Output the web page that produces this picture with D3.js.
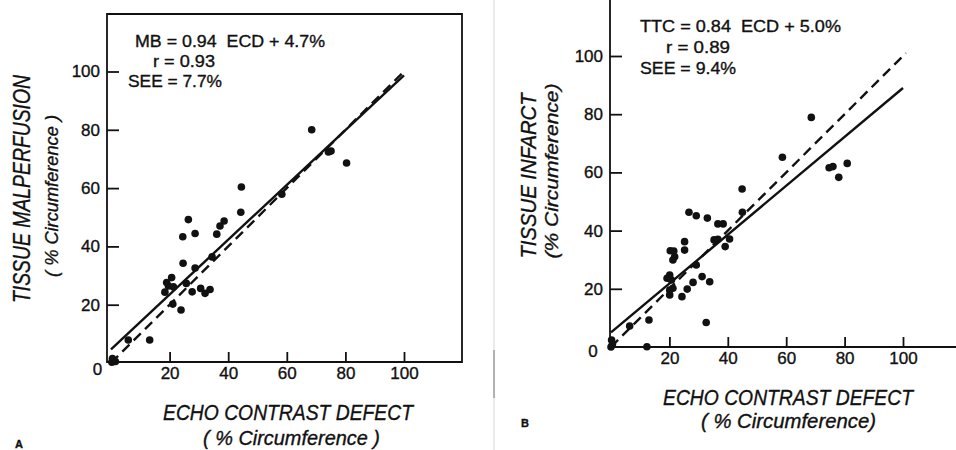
<!DOCTYPE html>
<html>
<head>
<meta charset="utf-8">
<script src="https://cdn.jsdelivr.net/npm/d3@7"></script>
<style>
  html, body { margin: 0; padding: 0; background: #fff; }
  svg { display: block; }
  text { fill: #111; stroke: #111; stroke-width: 0.35; font-family: "Liberation Sans", Arial, sans-serif; }
</style>
</head>
<body>
<svg id="chart" width="956" height="450"></svg>
<script>
// ── Data ─────────────────────────────────────────────
const tickValues = [20, 40, 60, 80, 100]

// Panel A: echo contrast defect vs tissue malperfusion (MB)
const ecdA = [68.5, 74.2, 75.1, 80.4, 58.3, 44.5, 44.3, 38.6, 37.2, 36.1, 34.5,
  26.4, 24.5, 28.7, 24.6, 28.7, 25.7, 20.7, 19.0, 19.6, 21.3, 18.4, 27.7, 30.6,
  32.1, 33.8, 21.1, 23.9, 13.2, 5.9, 0.5, 1.5, 0.3]
const mbA = [80.0, 72.4, 72.7, 68.6, 57.9, 60.4, 51.7, 48.7, 47.0, 44.2, 36.4,
  49.2, 43.3, 44.4, 34.2, 32.6, 27.3, 29.3, 27.6, 26.4, 26.1, 24.3, 24.4, 25.6,
  23.9, 25.2, 20.2, 18.2, 7.9, 7.9, 1.5, 0.5, 0.3]

// Panel B: echo contrast defect vs tissue infarct (TTC)
const ecdB = [68.6, 58.7, 74.7, 76.0, 80.9, 78.0, 44.9, 45.0, 26.7, 29.2, 33.0,
  36.6, 38.4, 35.3, 36.6, 40.6, 39.1, 25.2, 25.2, 20.3, 21.5, 21.8, 21.2, 29.2,
  20.1, 19.2, 20.7, 31.2, 28.1, 33.8, 21.2, 20.1, 26.1, 20.1, 24.3, 13.0, 6.4,
  32.6, 12.3, 0.0, 0.2, 0.5]
const ttcB = [78.9, 65.2, 61.6, 62.0, 63.1, 58.3, 54.3, 46.3, 46.3, 45.1, 44.3,
  42.3, 42.3, 36.8, 37.0, 37.1, 34.5, 36.2, 33.3, 33.1, 33.0, 31.0, 29.9, 28.2,
  24.7, 23.6, 23.0, 24.2, 22.2, 22.4, 20.2, 19.6, 19.9, 17.9, 17.3, 9.3, 7.2,
  8.4, 0.1, 0.0, 2.4, 1.0]

// Regression fits (slope, intercept) and identity line range
const fitA = [0.94, 4.7]
const fitB = [0.84, 5.0]
const identityA = [0, 100]
const identityB = [0, 101]
const fitRangeA = [0, 100]
const fitRangeB = [0, 100]

const statsA = ["MB = 0.94  ECD + 4.7%", "r = 0.93", "SEE = 7.7%"]
const statsB = ["TTC = 0.84  ECD + 5.0%", "r = 0.89", "SEE = 9.4%"]

const svg = d3.select("#chart")
const ink = "#111"

function drawPanel(p) {
  const g = svg.append("g")
  const x = d3.scaleLinear().domain([0, 100]).range(p.xRange)
  const y = d3.scaleLinear().domain([0, 100]).range(p.yRange)

  // frame
  const f = p.frame
  g.append("path")
    .attr("d", p.closed
      ? `M${f.l},${f.b}H${f.r}V${f.t}H${f.l}Z`
      : `M${f.l},${f.t}V${f.b}H${f.r}`)
    .attr("fill", "none").attr("stroke", ink).attr("stroke-width", 1.8)

  // axes (ticks point inward)
  const xa = g.append("g").attr("transform", `translate(0,${f.b})`)
    .call(d3.axisBottom(x).tickValues(tickValues).tickSize(-10).tickSizeOuter(0).tickPadding(5))
  const ya = g.append("g").attr("transform", `translate(${f.l},0)`)
    .call(d3.axisLeft(y).tickValues(tickValues).tickSize(-12).tickSizeOuter(0).tickPadding(p.yPad))
  for (const a of [xa, ya]) {
    a.select(".domain").remove()
    a.selectAll("line").attr("stroke", ink).attr("stroke-width", 1.8)
    a.selectAll("text").attr("font-size", 17).attr("font-family", "Liberation Sans, Arial, sans-serif").attr("fill", ink)
  }
  g.append("text").attr("x", p.zero[0]).attr("y", p.zero[1])
    .attr("text-anchor", "middle").attr("font-size", 17).text("0")

  // identity (dashed) and regression (solid)
  g.append("line")
    .attr("x1", x(p.identity[0])).attr("y1", y(p.identity[0]))
    .attr("x2", x(p.identity[1])).attr("y2", y(p.identity[1]))
    .attr("stroke", ink).attr("stroke-width", 2.4).attr("stroke-dasharray", "10,6")
  const fy = v => p.fit[0] * v + p.fit[1]
  g.append("line")
    .attr("x1", x(p.fitRange[0])).attr("y1", y(fy(p.fitRange[0])))
    .attr("x2", x(p.fitRange[1])).attr("y2", y(fy(p.fitRange[1])))
    .attr("stroke", ink).attr("stroke-width", 2.4)

  // points
  g.append("g").selectAll("circle")
    .data(p.xs.map((v, i) => [v, p.ys[i]]))
    .join("circle")
    .attr("cx", d => x(d[0])).attr("cy", d => y(d[1]))
    .attr("r", 3.8).attr("fill", ink)

  // stats block
  p.stats.forEach((s, i) => {
    g.append("text").attr("x", p.statPos[i][0]).attr("y", p.statPos[i][1])
      .attr("font-size", 17).attr("textLength", p.statLen[i]).attr("lengthAdjust", "spacingAndGlyphs")
      .style("white-space", "pre").text(s)
  })

  // axis titles
  p.yTitle.forEach(t => {
    g.append("text")
      .attr("transform", `translate(${t.cx},${t.cy}) rotate(-90)`)
      .attr("text-anchor", "middle").attr("dy", "0.36em")
      .attr("font-size", t.fs).attr("font-style", "italic")
      .attr("textLength", t.len).attr("lengthAdjust", "spacingAndGlyphs")
      .text(t.text)
  })
  p.xTitle.forEach(t => {
    g.append("text").attr("x", t.cx).attr("y", t.base)
      .attr("text-anchor", "middle")
      .attr("font-size", t.fs).attr("font-style", "italic")
      .attr("textLength", t.len).attr("lengthAdjust", "spacingAndGlyphs")
      .text(t.text)
  })
  g.append("text").attr("x", p.letter[0]).attr("y", p.letter[1])
    .attr("font-size", 11).attr("font-weight", "bold").text(p.letter[2])
}

// faint page gutter line from the scan
svg.append("line").attr("x1", 494).attr("x2", 494).attr("y1", 0).attr("y2", 450)
  .attr("stroke", "#d8d8d8").attr("stroke-width", 1)
svg.append("line").attr("x1", 494).attr("x2", 494).attr("y1", 350).attr("y2", 398)
  .attr("stroke", "#777").attr("stroke-width", 1)

drawPanel({
  xRange: [111, 404], yRange: [363, 71.5],
  frame: { l: 107, r: 462, t: 14, b: 362 }, closed: true, yPad: 7,
  zero: [97.5, 375],
  xs: ecdA, ys: mbA, fit: fitA, fitRange: fitRangeA, identity: identityA,
  stats: statsA,
  statPos: [[135, 47], [153, 67], [128, 87]],
  statLen: [190, 62, 94],
  yTitle: [
    { text: "TISSUE MALPERFUSION", cx: 22, cy: 189, fs: 23, len: 228 },
    { text: "( % Circumference )", cx: 51, cy: 196, fs: 19, len: 162 }
  ],
  xTitle: [
    { text: "ECHO CONTRAST DEFECT", cx: 288, base: 420, fs: 22, len: 250 },
    { text: "( % Circumference )", cx: 291.5, base: 445, fs: 20, len: 177 }
  ],
  letter: [15, 448, "A"]
})

drawPanel({
  xRange: [611, 903], yRange: [347, 56],
  frame: { l: 610, r: 956, t: 0, b: 347 }, closed: false, yPad: 7,
  zero: [593, 357],
  xs: ecdB, ys: ttcB, fit: fitB, fitRange: fitRangeB, identity: identityB,
  stats: statsB,
  statPos: [[640, 32], [666, 53], [640, 74]],
  statLen: [201, 64, 96],
  yTitle: [
    { text: "TISSUE INFARCT", cx: 528, cy: 176, fs: 22, len: 165 },
    { text: "(% Circumference)", cx: 551, cy: 171, fs: 19, len: 175 }
  ],
  xTitle: [
    { text: "ECHO CONTRAST DEFECT", cx: 788, base: 405, fs: 22, len: 250 },
    { text: "( % Circumference)", cx: 788.5, base: 428, fs: 20, len: 175 }
  ],
  letter: [521, 427, "B"]
})
</script>
</body>
</html>
